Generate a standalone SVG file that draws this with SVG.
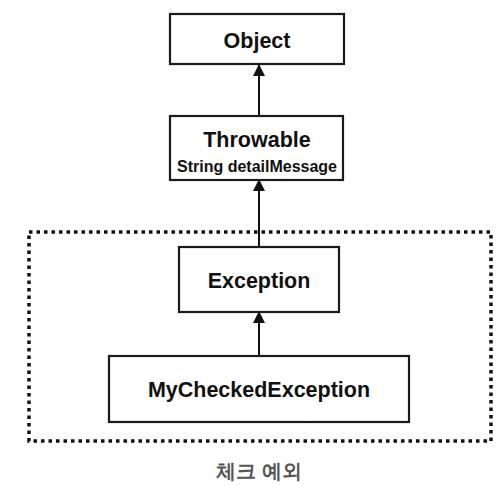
<svg xmlns="http://www.w3.org/2000/svg" width="502" height="486" viewBox="0 0 502 486">
<style>
.box{fill:#fff;stroke:#1a1a1a;stroke-width:2.2}
.t{font-family:"Liberation Sans",Arial,sans-serif;font-weight:bold;fill:#111;text-anchor:middle}
.conn{stroke:#111;stroke-width:2;fill:none}
</style>
<defs>
<marker id="ah" viewBox="0 0 12 12" refX="11" refY="6" markerWidth="13" markerHeight="12" markerUnits="userSpaceOnUse" orient="auto">
<path d="M0,0 L12,6 L0,12 z" fill="#111"/>
</marker>
</defs>
<rect width="502" height="486" fill="#fff"/>
<g id="checked-group">
<rect x="29" y="232" width="462" height="209" fill="none" stroke="#111" stroke-width="3.5" stroke-dasharray="3.5 4"/>
<text class="t" x="259" y="478" font-size="19.5" style="fill:#555" font-family="'Liberation Sans','Noto Sans CJK KR',sans-serif">체크 예외</text>
</g>
<g id="connectors">
<line class="conn" x1="259" y1="115" x2="259" y2="65" marker-end="url(#ah)"/>
<line class="conn" x1="259" y1="247" x2="259" y2="180" marker-end="url(#ah)"/>
<line class="conn" x1="259" y1="356" x2="259" y2="312" marker-end="url(#ah)"/>
</g>
<g id="object">
<rect class="box" x="170" y="14" width="174" height="50"/>
<text class="t" x="257" y="48" font-size="21.5">Object</text>
</g>
<g id="throwable">
<rect class="box" x="170" y="116" width="173" height="64"/>
<text class="t" x="257" y="147" font-size="21.5">Throwable</text>
<text class="t" x="257" y="172" font-size="16">String detailMessage</text>
</g>
<g id="exception">
<rect class="box" x="179" y="247" width="160" height="65"/>
<text class="t" x="259" y="288" font-size="21.5">Exception</text>
</g>
<g id="mycheckedexception">
<rect class="box" x="109" y="356" width="300" height="66"/>
<text class="t" x="259" y="397" font-size="21.5">MyCheckedException</text>
</g>
</svg>
